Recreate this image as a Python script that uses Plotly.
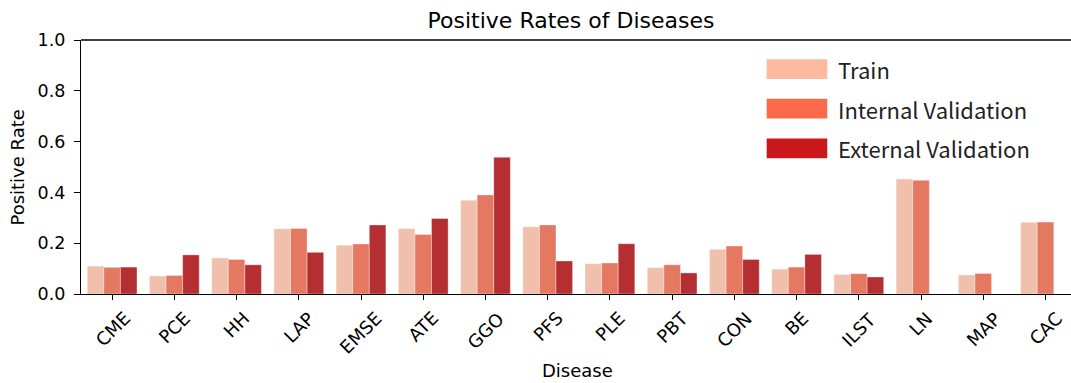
import colorsys
import plotly.graph_objects as go

# Disease abbreviations and positive rates per cohort
diseases = ["CME", "PCE", "HH", "LAP", "EMSE", "ATE", "GGO", "PFS", "PLE",
            "PBT", "CON", "BE", "ILST", "LN", "MAP", "CAC"]
train = [0.110, 0.071, 0.142, 0.257, 0.192, 0.258, 0.369, 0.265, 0.119,
         0.104, 0.176, 0.098, 0.077, 0.453, 0.075, 0.282]
internal_val = [0.105, 0.073, 0.136, 0.258, 0.197, 0.234, 0.390, 0.272, 0.122,
                0.115, 0.189, 0.106, 0.080, 0.448, 0.081, 0.283]
external_val = [0.106, 0.154, 0.115, 0.164, 0.272, 0.297, 0.538, 0.130, 0.198,
                0.083, 0.136, 0.156, 0.067, None, None, None]
series_names = ["Train", "Internal Validation", "External Validation"]
yticks = [0.0, 0.2, 0.4, 0.6, 0.8, 1.0]

base_colors = ["#fcbba1", "#fb6a4a", "#cb181d"]


def desaturate(hex_color, prop=0.75):
    r, g, b = (int(hex_color[i:i + 2], 16) / 255 for i in (1, 3, 5))
    h, l, s = colorsys.rgb_to_hls(r, g, b)
    r, g, b = colorsys.hls_to_rgb(h, l, s * prop)
    return "#%02x%02x%02x" % (round(r * 255), round(g * 255), round(b * 255))


bar_colors = [desaturate(c) for c in base_colors]

fig = go.Figure()
for name, vals, col in zip(series_names, [train, internal_val, external_val], bar_colors):
    fig.add_trace(go.Bar(
        x=diseases, y=vals, name=name, marker_color=col,
        marker_line_width=0.6, marker_line_color="rgba(255,255,255,0.6)",
        showlegend=False,
    ))

xtick_font = dict(family="DejaVu Sans", size=18, color="black")
ytick_font = dict(family="DejaVu Sans", size=17.5, color="black")
label_font = dict(family="DejaVu Sans", size=18, color="black")

# rotated category labels, centred under each tick
for d in diseases:
    fig.add_annotation(x=d, y=0, xref="x", yref="y", text=d, showarrow=False,
                       textangle=-45, xanchor="center", yanchor="top",
                       yshift=-11, font=xtick_font)

# axis titles
fig.add_annotation(x=0.5015, y=-0.302, xref="paper", yref="paper", text="Disease",
                   showarrow=False, xanchor="center", yanchor="middle",
                   borderpad=0, font=label_font)
fig.add_annotation(x=-0.0646, y=0.498, xref="paper", yref="paper", text="Positive Rate",
                   showarrow=False, textangle=-90, xanchor="center", yanchor="middle",
                   font=label_font)

# legend drawn as swatches + labels
legend_rows = [0.885, 0.7295, 0.5735]
for name, col, yc in zip(series_names, base_colors, legend_rows):
    fig.add_shape(type="rect", xref="paper", yref="paper",
                  x0=0.6926, x1=0.7538, y0=yc - 0.039, y1=yc + 0.039,
                  fillcolor=col, line_width=0)
    fig.add_annotation(x=0.7623, y=yc, xref="paper", yref="paper", text=name,
                       showarrow=False, xanchor="left", yanchor="middle",
                       font=dict(family="Noto Sans CJK SC", size=22, color="#222"))

# top spine
fig.add_shape(type="line", xref="paper", yref="paper", x0=0, x1=1, y0=1, y1=1,
              line=dict(color="black", width=1.3))

fig.update_layout(
    width=1071, height=383,
    margin=dict(l=81, r=0, t=40, b=89),
    paper_bgcolor="white", plot_bgcolor="white",
    barmode="group", bargap=0.2, bargroupgap=0,
    title=dict(text="Positive Rates of Diseases", x=0.495, xref="paper",
               xanchor="center", y=0.948, yanchor="middle",
               font=dict(family="DejaVu Sans", size=22, color="black")),
    xaxis=dict(range=[-0.5, 15.41], showticklabels=False, ticks="outside",
               ticklen=5, tickcolor="black", tickwidth=1.3,
               showline=True, linecolor="black", linewidth=1.3,
               showgrid=False, zeroline=False),
    yaxis=dict(range=[0, 1.0], tickvals=yticks, ticktext=[f"{v:.1f}" for v in yticks],
               ticks="outside", ticklen=6, tickcolor="black", tickwidth=1.3,
               showline=True, linecolor="black", linewidth=1.3,
               showgrid=False, zeroline=False, tickfont=ytick_font,
               ticklabelstandoff=5),
)

fig.write_html("out.html")
